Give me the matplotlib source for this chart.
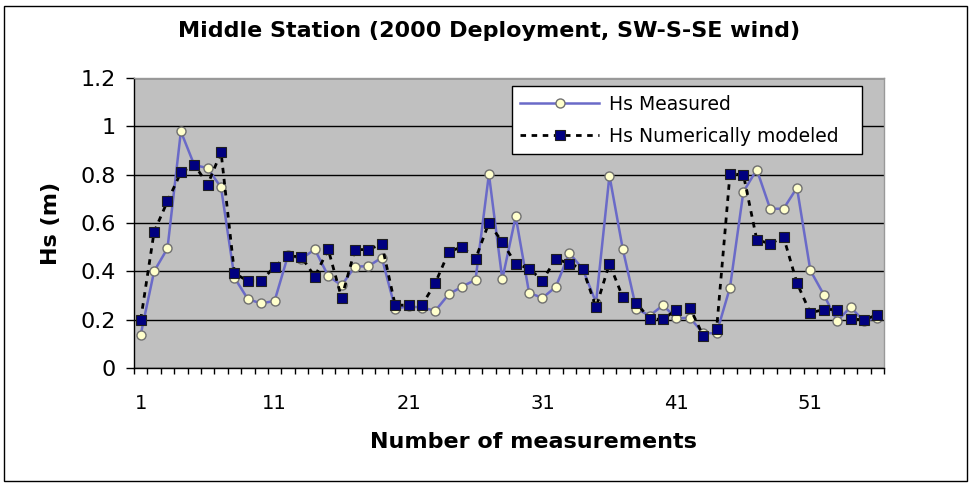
import matplotlib.pyplot as plt
from matplotlib.patches import Rectangle
import numpy as np

# significant wave height per measurement (m)
measured = [0.138, 0.40, 0.495, 0.979, 0.84, 0.827, 0.747, 0.374, 0.285, 0.267,
            0.278, 0.466, 0.452, 0.491, 0.381, 0.342, 0.42, 0.421, 0.457, 0.246,
            0.255, 0.25, 0.237, 0.305, 0.337, 0.365, 0.802, 0.367, 0.627, 0.311,
            0.29, 0.336, 0.476, 0.41, 0.271, 0.796, 0.491, 0.246, 0.216, 0.26,
            0.205, 0.208, 0.144, 0.144, 0.333, 0.729, 0.821, 0.659, 0.659, 0.746,
            0.404, 0.304, 0.194, 0.252, 0.194, 0.208]
modeled = [0.20, 0.563, 0.69, 0.809, 0.842, 0.759, 0.893, 0.392, 0.36, 0.36,
           0.42, 0.464, 0.46, 0.378, 0.491, 0.29, 0.49, 0.49, 0.513, 0.26,
           0.26, 0.26, 0.352, 0.48, 0.502, 0.451, 0.601, 0.52, 0.432, 0.411,
           0.362, 0.452, 0.432, 0.411, 0.252, 0.432, 0.292, 0.271, 0.202, 0.202,
           0.241, 0.25, 0.133, 0.161, 0.803, 0.80, 0.531, 0.514, 0.542, 0.352,
           0.228, 0.242, 0.242, 0.202, 0.20, 0.22]
n = np.arange(1, len(measured) + 1)
x_labels = [1, 11, 21, 31, 41, 51]
y_ticks = [0, 0.2, 0.4, 0.6, 0.8, 1.0, 1.2]
y_labels = ['0', '0.2', '0.4', '0.6', '0.8', '1', '1.2']

W, H = 971, 487
fig = plt.figure(figsize=(W / 100, H / 100), dpi=100)
ax = fig.add_axes([134 / W, 1 - 368 / H, 750 / W, 290 / H])
ax.set_facecolor('#C0C0C0')

ax.plot(n, measured, color='#6A6AC8', lw=1.8, marker='o', ms=6.5,
        mfc='#FFFFCC', mec='#707070', mew=1.0, label='Hs Measured', zorder=3)
ax.plot(n, modeled, color='black', lw=2.0, dashes=(2.0, 2.0), marker='s', ms=6.5,
        mfc='#000080', mec='#202020', mew=0.8, label='Hs Numerically modeled', zorder=4)

ax.set_xlim(0.5, len(measured) + 0.5)
ax.set_ylim(0, 1.2)
ax.set_yticks(y_ticks)
ax.set_yticklabels(y_labels, fontsize=16)
ax.set_xticks(x_labels)
ax.set_xticklabels([str(v) for v in x_labels], fontsize=14)
ax.set_xticks(np.arange(0.5, len(measured) + 1), minor=True)
ax.tick_params(axis='x', which='major', length=0, pad=19)
ax.tick_params(axis='x', which='minor', length=4, width=1, direction='out')
ax.tick_params(axis='y', length=6, width=1, pad=7)
ax.grid(axis='y', color='black', lw=1.0)
ax.set_axisbelow(True)
for side in ('top', 'right'):
    ax.spines[side].set_color('#999999')
    ax.spines[side].set_linewidth(1)
for side in ('left', 'bottom'):
    ax.spines[side].set_color('black')
    ax.spines[side].set_linewidth(1)

leg = ax.legend(loc='upper left', bbox_to_anchor=(0.504, 0.972, 0.467, 0.0),
                mode='expand', fontsize=13.5, frameon=True, fancybox=False,
                edgecolor='black', framealpha=1, handlelength=4.2,
                handletextpad=0.5, labelspacing=0.7, borderpad=0.45,
                borderaxespad=0)
leg.get_frame().set_linewidth(1)

fig.text(489 / W, 1 - 31 / H, 'Middle Station (2000 Deployment, SW-S-SE wind)',
         ha='center', va='center', fontsize=16, fontweight='bold')
fig.text(533 / W, 1 - 442 / H, 'Number of measurements',
         ha='center', va='center', fontsize=16, fontweight='bold')
fig.text(51 / W, 1 - 223 / H, 'Hs (m)', rotation=90,
         ha='center', va='center', fontsize=16, fontweight='bold')

# outer chart border
fig.patches.append(Rectangle((4 / W, 1 - 481 / H), 963 / W, 475 / H,
                             transform=fig.transFigure, fill=False,
                             edgecolor='black', lw=1))

fig.savefig('out.png', dpi=100)
